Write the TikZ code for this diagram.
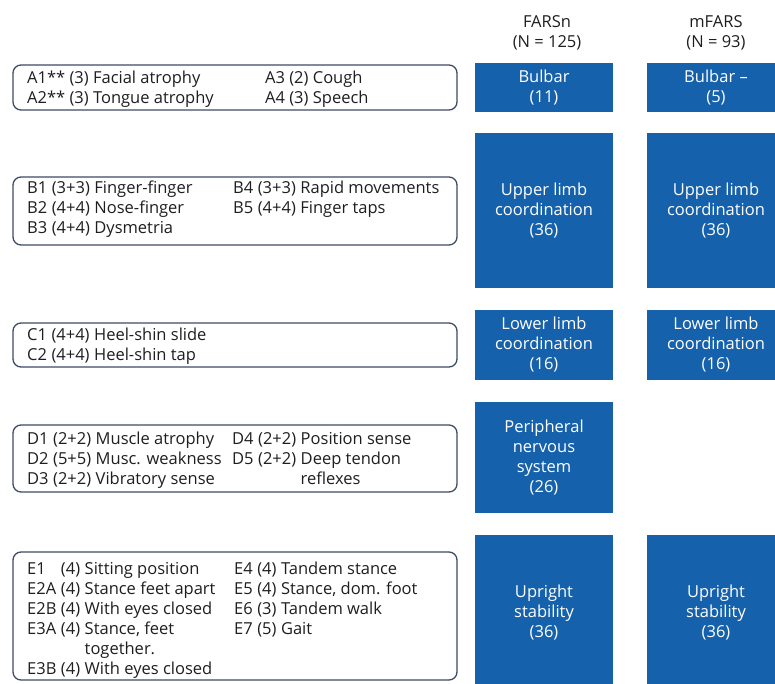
\documentclass[tikz,border=0pt]{standalone}
\usepackage{fontspec}
\setmainfont{Open Sans}
\definecolor{farsblue}{RGB}{22,97,172}
\definecolor{boxline}{RGB}{62,76,102}
\definecolor{txt}{RGB}{30,30,30}
\newcommand{\fs}{\fontsize{16.5}{20}\selectfont}
\newcommand{\gp}{\hspace{4.5pt}}
\begin{document}
\begin{tikzpicture}[x=1pt,y=-1pt,
  lbox/.style={draw=boxline, line width=1.3pt, rounded corners=8pt, minimum width=444pt, inner sep=0pt},
  bbox/.style={fill=farsblue, text=white, align=center, inner sep=0pt, minimum width=138pt, font=\fs},
  tx/.style={anchor=base west, inner sep=0pt, font=\fs, text=txt},
  hd/.style={align=center, inner sep=0pt, font=\fs, text=txt}]
\clip (0,0) rectangle (775,684);
% headers
\node[hd] (hF) at (547,33) {FARSn\\(N = 125)};
\node[hd] (hM) at (716,33) {mFARS\\(N = 93)};
% left boxes
\node[lbox, minimum height=45pt] (boxA) at (235,87.5) {};
\node[lbox, minimum height=68pt] (boxB) at (235,211) {};
\node[lbox, minimum height=44pt] (boxC) at (235,345) {};
\node[lbox, minimum height=67pt] (boxD) at (235,458.5) {};
\node[lbox, minimum height=128pt] (boxE) at (235,616) {};
% texts A
\node[tx] (tA1) at (27,84) {\begin{tabular}[t]{@{}l@{}}
A1** (3) Facial atrophy\\ A2** (3) Tongue atrophy\end{tabular}};
\node[tx] (tA2) at (265,84) {\begin{tabular}[t]{@{}l@{}}
A3 (2) Cough\\ A4 (3) Speech\end{tabular}};
% texts B
\node[tx] (tB1) at (27,194) {\begin{tabular}[t]{@{}l@{\gp}l@{\gp}l@{}}
B1 & (3+3) & Finger-finger\\
B2 & (4+4) & Nose-finger\\
B3 & (4+4) & Dysmetria
\end{tabular}};
\node[tx] (tB2) at (233,194) {\begin{tabular}[t]{@{}l@{\gp}l@{\gp}l@{}}
B4 & (3+3) & Rapid movements\\
B5 & (4+4) & Finger taps
\end{tabular}};
% texts C
\node[tx] (tC) at (27,340) {\begin{tabular}[t]{@{}l@{\gp}l@{\gp}l@{}}
C1 & (4+4) & Heel-shin slide\\
C2 & (4+4) & Heel-shin tap
\end{tabular}};
% texts D
\node[tx] (tD1) at (27,444) {\begin{tabular}[t]{@{}l@{\gp}l@{\gp}l@{}}
D1 & (2+2) & Muscle atrophy\\
D2 & (5+5) & Musc. weakness\\
D3 & (2+2) & Vibratory sense
\end{tabular}};
\node[tx] (tD2) at (232,444) {\begin{tabular}[t]{@{}l@{\gp}l@{\gp}l@{}}
D4 & (2+2) & Position sense\\
D5 & (2+2) & Deep tendon\\
 & & reflexes
\end{tabular}};
% texts E
\node[tx] (tE1) at (27,574) {\begin{tabular}[t]{@{}l@{\gp}l@{\gp}l@{}}
E1 & (4) & Sitting position\\
E2A & (4) & Stance feet apart\\
E2B & (4) & With eyes closed\\
E3A & (4) & Stance, feet\\
 & & together.\\
E3B & (4) & With eyes closed
\end{tabular}};
\node[tx] (tE2) at (234,574) {\begin{tabular}[t]{@{}l@{\gp}l@{\gp}l@{}}
E4 & (4) & Tandem stance\\
E5 & (4) & Stance, dom. foot\\
E6 & (3) & Tandem walk\\
E7 & (5) & Gait
\end{tabular}};
% blue boxes FARSn
\node[bbox, minimum height=49pt] (fA) at (544,87.5) {Bulbar\\(11)};
\node[bbox, minimum height=155pt] (fB) at (544,210.5) {Upper limb\\coordination\\(36)};
\node[bbox, minimum height=70pt] (fC) at (544,345) {Lower limb\\coordination\\(16)};
\node[bbox, minimum height=111pt] (fD) at (544,457.5) {Peripheral\\nervous\\system\\(26)};
\node[bbox, minimum height=156pt] (fE) at (544,613) {Upright\\stability\\(36)};
% blue boxes mFARS
\node[bbox, minimum height=49pt] (mA) at (716,87.5) {Bulbar --\\(5)};
\node[bbox, minimum height=155pt] (mB) at (716,210.5) {Upper limb\\coordination\\(36)};
\node[bbox, minimum height=70pt] (mC) at (716,345) {Lower limb\\coordination\\(16)};
\node[bbox, minimum height=156pt] (mE) at (716,613) {Upright\\stability\\(36)};
\end{tikzpicture}
\end{document}
